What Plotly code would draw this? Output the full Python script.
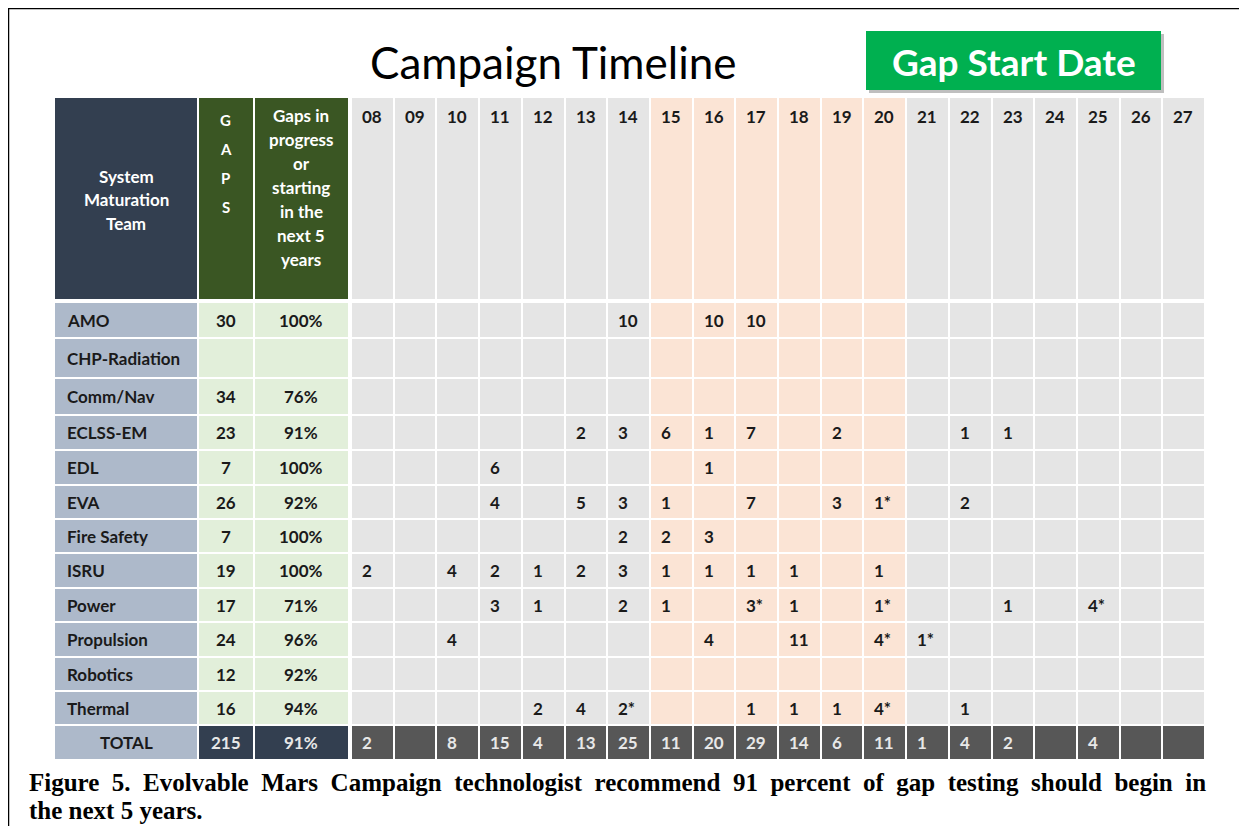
"""Campaign timeline table: gap start dates per system maturation team."""

import plotly.graph_objects as go

# ---- data -------------------------------------------------------------
TEAMS = [
    "AMO", "CHP-Radiation", "Comm/Nav", "ECLSS-EM", "EDL", "EVA",
    "Fire Safety", "ISRU", "Power", "Propulsion", "Robotics", "Thermal",
]
GAPS = ["30", "", "34", "23", "7", "26", "7", "19", "17", "24", "12", "16"]
PCT_NEXT5 = ["100%", "", "76%", "91%", "100%", "92%", "100%", "100%", "71%", "96%", "92%", "94%"]

YEARS = ["08", "09", "10", "11", "12", "13", "14", "15", "16", "17",
         "18", "19", "20", "21", "22", "23", "24", "25", "26", "27"]
NEAR_TERM = ["15", "16", "17", "18", "19", "20"]

# gap start counts, team -> {year: label}  (* = asterisked in source)
STARTS = {
    "AMO": {"14": "10", "16": "10", "17": "10"},
    "CHP-Radiation": {},
    "Comm/Nav": {},
    "ECLSS-EM": {"13": "2", "14": "3", "15": "6", "16": "1", "17": "7", "19": "2", "22": "1", "23": "1"},
    "EDL": {"11": "6", "16": "1"},
    "EVA": {"11": "4", "13": "5", "14": "3", "15": "1", "17": "7", "19": "3", "20": "1*", "22": "2"},
    "Fire Safety": {"14": "2", "15": "2", "16": "3"},
    "ISRU": {"08": "2", "10": "4", "11": "2", "12": "1", "13": "2", "14": "3", "15": "1",
             "16": "1", "17": "1", "18": "1", "20": "1"},
    "Power": {"11": "3", "12": "1", "14": "2", "15": "1", "17": "3*", "18": "1", "20": "1*",
              "23": "1", "25": "4*"},
    "Propulsion": {"10": "4", "16": "4", "18": "11", "20": "4*", "21": "1*"},
    "Robotics": {},
    "Thermal": {"12": "2", "13": "4", "14": "2*", "17": "1", "18": "1", "19": "1", "20": "4*", "22": "1"},
}
TOTAL_GAPS = "215"
TOTAL_PCT = "91%"
TOTAL_BY_YEAR = ["2", "", "8", "15", "4", "13", "25", "11", "20", "29",
                 "14", "6", "11", "1", "4", "2", "", "4", "", ""]

CAPTION_1 = ("Figure 5. Evolvable Mars Campaign technologist recommend 91 percent of gap "
             "testing should begin in")
CAPTION_2 = "the next 5 years."

# ---- layout (page pixel units, y grows downward) ----------------------
W, H = 1247, 826
PAGE_PAD = 8  # browser body margin around the plot div
LEFT_EDGES = [54, 198, 253.5, 349]
YEAR_X0, YEAR_X1 = 351, 1205
HEADER_EDGES = [97, 300]
ROW_EDGES = [302, 338, 378, 415, 450, 485, 519, 553, 588, 622, 657, 691, 725, 760]

NAVY = "#333F50"
DKGREEN = "#3A5623"
GRAY = "#E5E5E5"
PEACH = "#FBE4D5"
BLUEGRAY = "#ADB9CA"
LTGREEN = "#E2EFDA"
DKGRAY = "#575757"
PALETTE = [NAVY, DKGREEN, GRAY, PEACH, BLUEGRAY, LTGREEN, DKGRAY]
COLORSCALE = [[i / (len(PALETTE) - 1), c] for i, c in enumerate(PALETTE)]
TXT = "#1A1A1A"
FONT = "Lato"
CELL_SIZE = 17

step = (YEAR_X1 - YEAR_X0) / len(YEARS)
year_edges = [YEAR_X0 + i * step for i in range(len(YEARS) + 1)]
year_code = [3 if y in NEAR_TERM else 2 for y in YEARS]


def cells(x_edges, y_edges, z):
    return go.Heatmap(
        x=x_edges, y=y_edges, z=z, zmin=0, zmax=len(PALETTE) - 1,
        colorscale=COLORSCALE, showscale=False, xgap=2, ygap=2, hoverinfo="skip",
    )


fig = go.Figure()

# left block
fig.add_trace(cells(LEFT_EDGES, HEADER_EDGES, [[0, 1, 1]]))
left_body = [[4, 5, 5] for _ in TEAMS] + [[4, 0, 0]]
fig.add_trace(cells(LEFT_EDGES, ROW_EDGES, left_body))

# year block
fig.add_trace(cells(year_edges, HEADER_EDGES, [year_code]))
year_body = [year_code for _ in TEAMS] + [[6] * len(YEARS)]
fig.add_trace(cells(year_edges, ROW_EDGES, year_body))


def label(x, y, text, size=CELL_SIZE, color=TXT, anchor="left", weight=700, family=FONT, pad=1):
    fig.add_annotation(
        x=x, y=y, xref="x", yref="y", text=text, showarrow=False,
        xanchor=anchor, yanchor="middle", borderpad=pad,
        font={"family": family, "size": size, "color": color, "weight": weight},
    )


# header texts
team_cx = (LEFT_EDGES[0] + LEFT_EDGES[1]) / 2
gaps_cx = (LEFT_EDGES[1] + LEFT_EDGES[2]) / 2
pct_cx = (LEFT_EDGES[2] + LEFT_EDGES[3]) / 2
for i, line in enumerate(["System", "Maturation", "Team"]):
    label(team_cx, 176 + i * 23.5, line, color="white", anchor="center")
for i, ch in enumerate("GAPS"):
    label(gaps_cx, 120 + i * 29, ch, size=15, color="white", anchor="center")
for i, line in enumerate(["Gaps in", "progress", "or", "starting", "in the", "next 5", "years"]):
    label(pct_cx, 115 + i * 24, line, color="white", anchor="center")
for j, yr in enumerate(YEARS):
    label(year_edges[j] + 9, 116, yr)

# body texts
row_mid = [(ROW_EDGES[i] + ROW_EDGES[i + 1]) / 2 for i in range(len(ROW_EDGES) - 1)]
for i, team in enumerate(TEAMS):
    yc = row_mid[i]
    label(LEFT_EDGES[0] + 11, yc, team)
    label(gaps_cx, yc, GAPS[i], anchor="center")
    label(pct_cx, yc, PCT_NEXT5[i], anchor="center")
    for j, yr in enumerate(YEARS):
        val = STARTS[team].get(yr, "")
        if val:
            label(year_edges[j] + 9, yc, val)

yt = row_mid[-1]
label(team_cx, yt, "TOTAL", anchor="center")
label(gaps_cx, yt, TOTAL_GAPS, color="#E8E8E8", anchor="center")
label(pct_cx, yt, TOTAL_PCT, color="#E8E8E8", anchor="center")
for j, val in enumerate(TOTAL_BY_YEAR):
    if val:
        label(year_edges[j] + 9, yt, val, color="#E8E8E8")

# titles
label(553, 62, "Campaign Timeline", size=44, color="black", anchor="center", weight=400)
fig.add_shape(type="rect", x0=869, x1=1164, y0=34, y1=93, xref="x", yref="y",
              fillcolor="rgba(0,0,0,0.25)", line_width=0, layer="below")
fig.add_shape(type="rect", x0=866, x1=1161, y0=31, y1=90, xref="x", yref="y",
              fillcolor="#00B050", line_width=0)
label(1013.5, 61, "Gap Start Date", size=37, color="white", anchor="center")

# caption (roughly justified with an extra non-breaking space between words)
label(28, 782, " \u00a0".join(CAPTION_1.split(" ")), size=25, color="black",
      family="Liberation Serif", pad=0)
label(28, 810, CAPTION_2, size=25, color="black", family="Liberation Serif", pad=0)

# frame (top and left edges of the figure box)
fig.add_shape(type="line", x0=0, x1=1, y0=1, y1=1, xref="paper", yref="paper",
              line={"color": "black", "width": 2.5})
fig.add_shape(type="line", x0=0, x1=0, y0=0, y1=1, xref="paper", yref="paper",
              line={"color": "black", "width": 2.5})

fig.update_layout(
    width=W - PAGE_PAD, height=H - PAGE_PAD,
    margin={"l": 0, "r": 0, "t": 0, "b": 0},
    paper_bgcolor="white", plot_bgcolor="white",
    xaxis={"range": [PAGE_PAD, W], "visible": False, "fixedrange": True},
    yaxis={"range": [H, PAGE_PAD], "visible": False, "fixedrange": True},
    showlegend=False,
)

fig.write_html("out.html")
